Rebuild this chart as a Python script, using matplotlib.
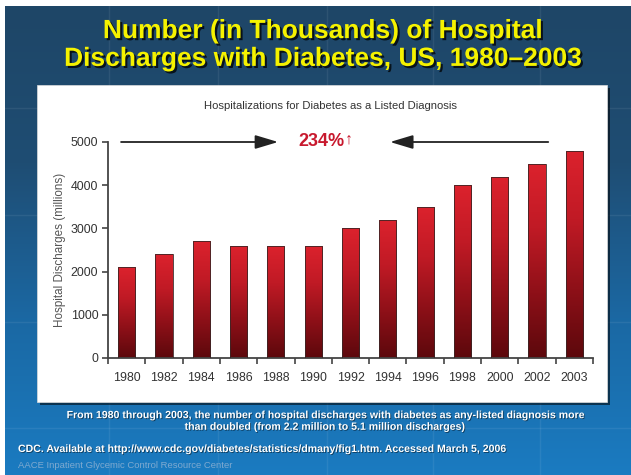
import numpy as np
import matplotlib
matplotlib.use("Agg")
import matplotlib.pyplot as plt
import matplotlib.patheffects as pe
from matplotlib.colors import LinearSegmentedColormap
from matplotlib.patches import Rectangle

plt.rcParams['font.family'] = ['Liberation Sans', 'DejaVu Sans']

# === data ===
years = ['1980', '1982', '1984', '1986', '1988', '1990', '1992',
         '1994', '1996', '1998', '2000', '2002', '2003']
discharges = [2100, 2400, 2700, 2600, 2600, 2600, 3000,
              3200, 3500, 4000, 4200, 4500, 4800]
y_ticks = [0, 1000, 2000, 3000, 4000, 5000]
pct_change = "234%"

slide_title = "Number (in Thousands) of Hospital\nDischarges with Diabetes, US, 1980\u20132003"
chart_title = "Hospitalizations for Diabetes as a Listed Diagnosis"
y_label = "Hospital Discharges (millions)"
note = ("From 1980 through 2003, the number of hospital discharges with diabetes as any-listed diagnosis more\n"
        "than doubled (from 2.2 million to 5.1 million discharges)")
source = "CDC. Available at http://www.cdc.gov/diabetes/statistics/dmany/fig1.htm. Accessed March 5, 2006"
footer = "AACE Inpatient Glycemic Control Resource Center"

W, H = 631, 475
fig = plt.figure(figsize=(W / 100, H / 100), dpi=100, facecolor='white')


# === 1. slide background (pixel coords) ===
def draw_slide():
    bg = fig.add_axes([0, 0, 1, 1], zorder=-10)
    bg.set_xlim(0, W)
    bg.set_ylim(H, 0)
    bg.axis('off')

    slide_cmap = LinearSegmentedColormap.from_list(
        'slide', ['#1e4667', '#1f4d73', '#1b68a3', '#1a7bc1'])
    grad = np.linspace(0, 1, 256).reshape(-1, 1)
    bg.imshow(grad, cmap=slide_cmap, extent=[5, W, H, 6], aspect='auto', zorder=0)

    # faint tile lines
    for gx in [109, 218, 327, 433, 540]:
        bg.plot([gx, gx], [6, H], color='white', alpha=0.07, lw=1, zorder=1)
    for gy in [108, 215, 322, 428]:
        bg.plot([5, W], [gy, gy], color='white', alpha=0.07, lw=1, zorder=1)

    # white chart panel with shadow
    bg.add_patch(Rectangle((40, 88), 570, 317, facecolor='black', alpha=0.55, zorder=2))
    bg.add_patch(Rectangle((37, 85), 570, 317, facecolor='white', edgecolor='#dddddd',
                           lw=0.5, zorder=3))


# === 2. bar chart ===
def draw_chart():
    ax = fig.add_axes([108 / W, 117 / H, 485 / W, 216 / H])
    ax.set_facecolor('none')
    x = np.arange(len(years))

    bars = ax.bar(x, discharges, width=0.46, color='none', edgecolor='#3b2626',
                  linewidth=0.6, zorder=3)
    bar_cmap = LinearSegmentedColormap.from_list(
        'bar', ['#5c080c', '#8e1018', '#c01a25', '#dc222d'])
    grad = np.linspace(0, 1, 256).reshape(-1, 1)
    for b in bars:
        x0, w, h = b.get_x(), b.get_width(), b.get_height()
        im = ax.imshow(grad, cmap=bar_cmap, origin='lower', aspect='auto',
                       extent=[x0, x0 + w, 0, h], zorder=2)
        im.set_clip_path(b)

    ax.set_xlim(-0.5, len(years) - 0.5)
    ax.set_ylim(0, 5000)

    ax.set_xticks(x)
    ax.set_xticklabels(years)
    ax.set_xticks(np.arange(-0.5, len(years)), minor=True)
    ax.tick_params(axis='x', which='major', length=0, pad=10, labelsize=8.9, labelcolor='#333333')
    ax.tick_params(axis='x', which='minor', length=4, width=1.2, color='#444444', direction='out')
    ax.set_yticks(y_ticks)
    ax.tick_params(axis='y', length=4, width=1.2, color='#444444', direction='out',
                   labelsize=8.9, labelcolor='#333333', pad=3)

    for s in ['top', 'right']:
        ax.spines[s].set_visible(False)
    for s in ['left', 'bottom']:
        ax.spines[s].set_color('#444444')
        ax.spines[s].set_linewidth(1.3)

    ax.set_ylabel(y_label, fontsize=8.4, color='#555555', labelpad=3)

    # 234% with arrows pointing at it
    arrow = dict(arrowstyle='-|>,head_length=1.0,head_width=0.3', color='#222222',
                 lw=1.3, mutation_scale=14, shrinkA=0, shrinkB=0)
    ax.annotate('', xy=(4.06, 5000), xytext=(-0.15, 5000), arrowprops=arrow,
                annotation_clip=False)
    ax.annotate('', xy=(7.06, 5000), xytext=(11.3, 5000), arrowprops=arrow,
                annotation_clip=False)
    ax.text(5.85, 5000, pct_change, ha='right', va='center', fontsize=13,
            fontweight='bold', color='#c8192e', clip_on=False)
    ax.text(5.84, 5060, '\u2191', ha='left', va='center', fontsize=11.5,
            color='#c8192e', clip_on=False)

    fig.text(331 / W, 1 - 106 / H, chart_title, ha='center', va='center',
             fontsize=8.1, color='#333333')


# === 3. slide texts ===
def draw_texts():
    shadow = [pe.withSimplePatchShadow(offset=(1.5, -1.5), shadow_rgbFace='black', alpha=0.75)]
    fig.text(323 / W, 1 - 45 / H, slide_title, ha='center', va='center', fontsize=19,
             fontweight='bold', color='#f5f200', linespacing=1.2, path_effects=shadow)

    small_shadow = [pe.withSimplePatchShadow(offset=(0.6, -0.6), shadow_rgbFace='black', alpha=0.5)]
    fig.text(324 / W, 1 - 421 / H, note, ha='center', va='center', fontsize=7.6,
             fontweight='bold', color='white', linespacing=1.2, path_effects=small_shadow)
    fig.text(18 / W, 1 - 449 / H, source, ha='left', va='center', fontsize=7.6,
             fontweight='bold', color='white', path_effects=small_shadow)
    fig.text(18 / W, 1 - 466 / H, footer, ha='left', va='center', fontsize=6.8,
             color='#7faad0')


def main():
    draw_slide()
    draw_chart()
    draw_texts()
    fig.savefig('out.png', dpi=100, facecolor='white')


if __name__ == "__main__":
    main()
